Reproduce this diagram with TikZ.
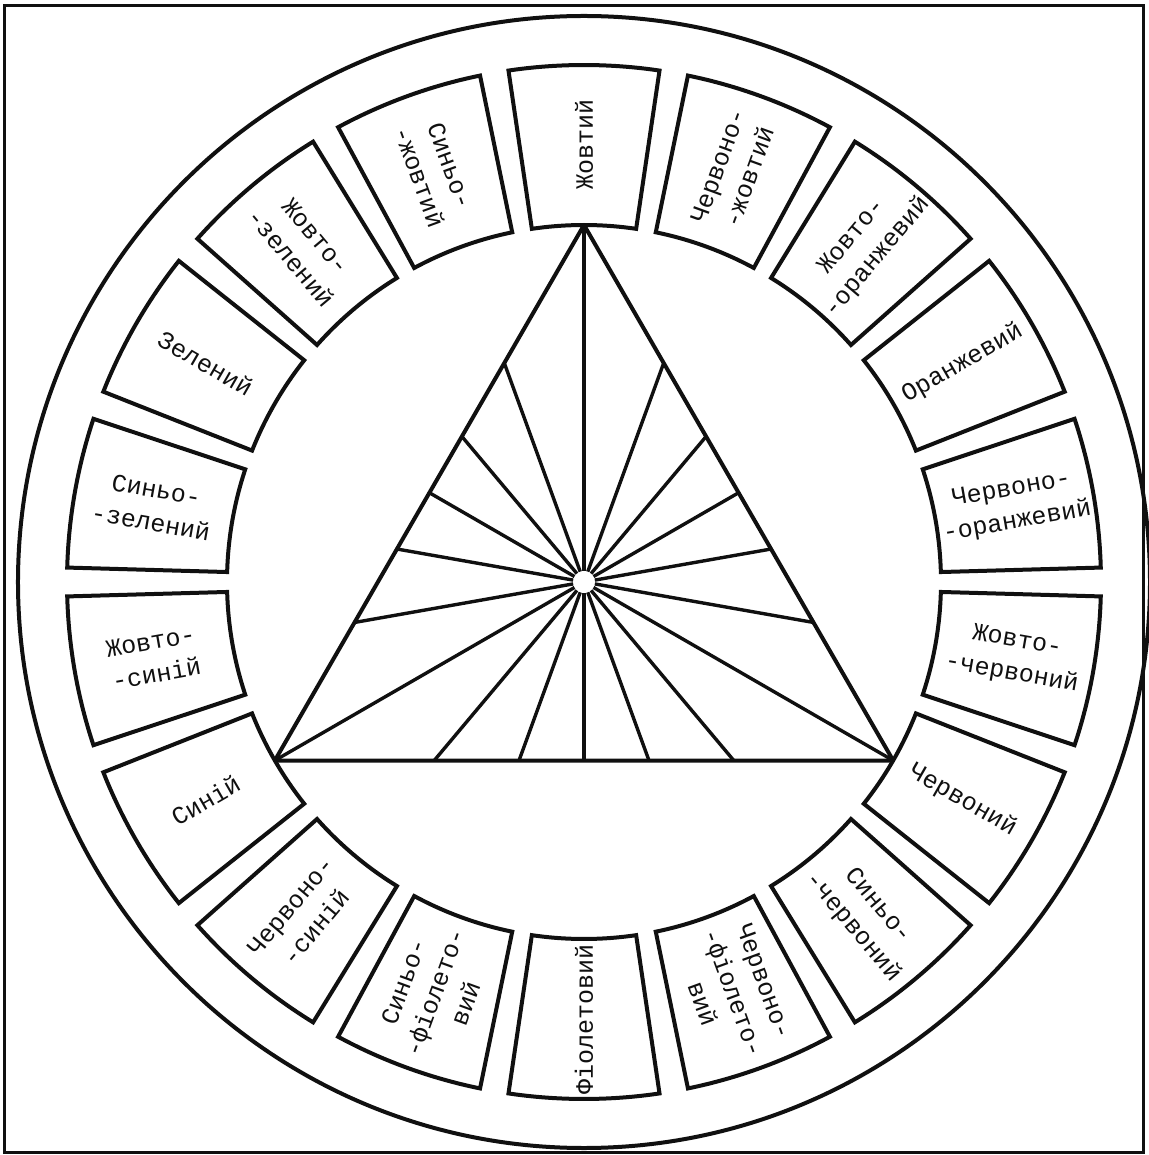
\documentclass[tikz,border=0pt]{standalone}
\usepackage{fontspec}
\setmonofont{Liberation Mono}
\definecolor{ink}{HTML}{101010}

\begin{document}
\begin{tikzpicture}[
  x=0.5pt, y=0.5pt,
  outline/.style={ink, line width=1.5pt},
  rim/.style={ink, line width=2pt},
  box/.style={ink, line width=2pt, line join=miter},
  trig/.style={ink, line width=2pt, line join=round},
  ray/.style={ink, line width=1.7pt},
  wheeltext/.style={ink, font=\ttfamily\fontsize{12.5}{16.5}\selectfont, align=center, inner sep=0pt},
]
\useasboundingbox (-584,-573) rectangle (564,582);

% ===== frame and outer rim =====
\draw[outline] (-579,-570) rectangle (559,576);
\draw[rim] (0,0) circle (566);

% ===== colour boxes, 20 deg apart =====
\foreach \a/\r/\t [count=\i] in {
    90/90/{Жовтий},
    70/70/{Червоно-\\-жовтий},
    50/50/{Жовто-\\-оранжевий},
    30/30/{Оранжевий},
    10/10/{Червоно-\\-оранжевий},
    -10/-10/{Жовто-\\-червоний},
    -30/-30/{Червоний},
    -50/-50/{Синьо-\\-червоний},
    -70/-70/{Червоно-\\-фіолето-\\вий},
    -90/90/{Фіолетовий},
    -110/70/{Синьо-\\-фіолето-\\вий},
    -130/50/{Червоно-\\-синій},
    -150/30/{Синій},
    -170/10/{Жовто-\\-синій},
    170/-10/{Синьо-\\-зелений},
    150/-30/{Зелений},
    130/-50/{Жовто-\\-зелений},
    110/-70/{Синьо-\\-жовтий}}{
  \draw[box] ({\a-8.4}:357) arc[start angle=\a-8.4, end angle=\a+8.4, radius=357]
    -- ({\a+8.4}:517) arc[start angle=\a+8.4, end angle=\a-8.4, radius=517] -- cycle;
  \node[wheeltext, rotate=\r] (lbl\i) at (\a:437) {\t};
}

% ===== triangle and rays =====
\coordinate (centre) at (0,0);
\coordinate (apex) at (90:357);
\coordinate (lcorner) at (210:357);
\coordinate (rcorner) at (330:357);
\foreach \a in {90,110,...,430}{
  % distance from centre to the triangle side along this ray
  \pgfmathsetmacro\d{178.5/cos(mod(\a+30,120)-60)}
  \draw[ray] ([shift={(\a:11)}]centre) -- ([shift={(\a:\d)}]centre);
}
\draw[trig] (apex) -- (lcorner) -- (rcorner) -- cycle;

\end{tikzpicture}
\end{document}
